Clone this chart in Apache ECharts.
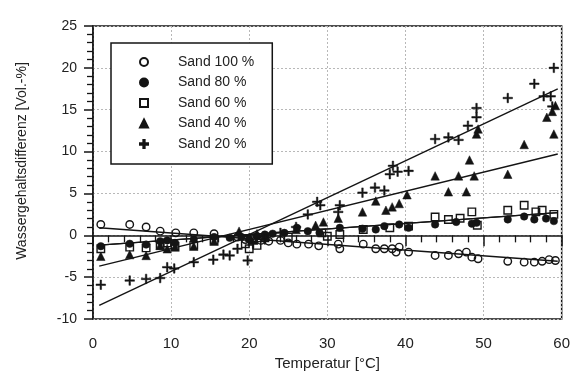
<!DOCTYPE html>
<html>
<head>
<meta charset="utf-8">
<script src="https://cdn.jsdelivr.net/npm/echarts@6/dist/echarts.min.js"></script>
<style>
html,body{margin:0;padding:0;background:#fff;}
#c{width:573px;height:376px;}
</style>
</head>
<body>
<div id="c"></div>
<script>
// ---- data ----
const seriesNames = ['Sand 100 %', 'Sand 80 %', 'Sand 60 %', 'Sand 40 %', 'Sand 20 %'];
const xTitle = 'Temperatur [°C]';
const yTitle = 'Wassergehaltsdifferenz [Vol.-%]';

const sand100 = [[1,1.3],[4.7,1.3],[6.8,1.0],[8.6,0.5],[10.6,0.3],[12.9,0.3],[15.5,0.2],[18.5,-0.2],[19.5,-0.5],[20.5,-0.3],[21.5,-0.6],[22.5,-0.7],[24,-0.6],[25,-0.9],[26.1,-1.05],[27.6,-1.05],[28.9,-1.25],[31.4,-1.05],[31.6,-1.6],[34.6,-1.05],[36.2,-1.6],[37.3,-1.6],[38.3,-1.6],[38.8,-2.0],[39.2,-1.4],[40.4,-2.0],[43.8,-2.4],[45.5,-2.4],[46.8,-2.2],[47.8,-2.0],[48.5,-2.6],[49.3,-2.8],[53.1,-3.1],[55.2,-3.2],[56.5,-3.2],[57.5,-3.1],[58.4,-2.9],[59.2,-3.0]];

const sand80 = [[1,-1.3],[4.7,-1.0],[6.8,-1.1],[8.6,-0.7],[9.5,-0.6],[10.5,-0.9],[12.9,-0.5],[15.5,-0.2],[17.5,-0.3],[19,-0.2],[20,-0.5],[21,-0.1],[22,0.1],[23,0.2],[24.5,0.3],[26.1,0.9],[27.5,0.5],[29,0.3],[31.6,0.9],[34.5,0.8],[36.2,0.7],[37.3,1.1],[39.2,1.3],[40.4,0.9],[43.8,1.3],[46.5,1.6],[48.5,1.4],[49.1,1.5],[53.1,1.9],[55.2,2.25],[56.5,1.9],[58,2.0],[59,1.7]];

const sand60 = [[1,-1.6],[4.7,-1.4],[6.8,-1.5],[8.6,-1.2],[9.5,-0.9],[10.5,-1.3],[12.9,-1.2],[15.5,-0.6],[19.5,-1.0],[20,-1.6],[20.5,-0.4],[21,-1.2],[22,-0.3],[25,-0.2],[29.3,0.3],[30,-0.1],[31.6,0.1],[34.6,0.7],[38,0.9],[40.4,1.1],[43.8,2.2],[45.5,1.9],[47,2.05],[48.5,2.8],[49.2,1.2],[53.1,3.0],[55.2,3.6],[56.7,2.8],[57.5,3.0],[59,2.5]];

const sand40 = [[1,-2.5],[4.7,-2.3],[6.8,-2.4],[8.6,-1.2],[9.5,-1.6],[10.5,-1.4],[12.9,-1.3],[15.5,-0.7],[18.7,0.5],[20,-0.2],[21,0.2],[22,-0.1],[26,0.7],[28.5,1.2],[29.5,1.6],[31.4,2.05],[34.5,2.8],[36.2,4.1],[37.5,3.0],[38.3,3.4],[39.2,3.8],[40.2,4.85],[43.8,7.1],[45.5,5.2],[46.8,7.1],[47.8,5.2],[48.2,9.0],[48.8,7.1],[49.1,12.1],[49.3,12.7],[53.1,7.3],[55.2,10.85],[58.1,14.1],[58.8,14.8],[59,12.1],[59.2,15.5]];

const sand20 = [[1,-5.9],[4.7,-5.4],[6.8,-5.2],[8.6,-5.1],[9.5,-3.8],[10.4,-3.95],[12.9,-3.2],[15.4,-2.9],[16.7,-2.3],[17.5,-2.4],[18.5,-1.6],[19.8,-3.0],[20.5,-1.0],[22,-0.5],[24,0.3],[26,1.0],[27.5,2.5],[28.7,4.0],[29.1,3.6],[31.4,2.8],[31.6,3.6],[34.5,5.1],[36.1,5.7],[37.3,5.35],[38.0,7.3],[38.4,8.3],[39.0,7.6],[40.4,7.7],[43.8,11.5],[45.5,11.7],[46.8,11.4],[48.0,13.1],[49.1,14.1],[49.1,15.2],[53.1,16.4],[56.5,18.1],[57.7,16.6],[58.6,16.6],[58.8,15.4],[59,20]];

// regression line end points
const fit100 = [[0.8,0.90],[59.5,-3.10]];
const fit80 = [[0.8,-1.17],[59.5,2.71]];
const fit60 = [[0.8,-1.17],[59.5,2.71]];
const fit40 = [[0.8,-3.68],[59.5,9.71]];
const fit20 = [[0.8,-8.35],[59.5,17.48]];

// ---- chart ----
const INK = '#141414';
const TXT = '#222';
const FONT = '"Liberation Sans", Arial, sans-serif';
const plusPath = 'path://M4.2,0H5.8V4.2H10V5.8H5.8V10H4.2V5.8H0V4.2H4.2Z';

const chart = echarts.init(document.getElementById('c'), null, {renderer: 'canvas'});

function scatter(name, data, symbol, size, filled) {
  return {
    name: name, type: 'scatter', data: data, symbol: symbol, symbolSize: size,
    itemStyle: filled ? {color: INK, borderColor: INK, borderWidth: 0.5, opacity: 1}
                      : {color: 'rgba(255,255,255,0)', borderColor: INK, borderWidth: 1.4, opacity: 1},
    z: 3
  };
}
function fit(name, data) {
  return {
    name: name, type: 'line', data: data, symbol: 'none', silent: true,
    lineStyle: {color: INK, width: 1.4}, z: 2
  };
}

chart.setOption({
  animation: false,
  backgroundColor: '#fff',
  grid: {left: 93, right: 5, top: 26, bottom: 49, show: true, borderColor: INK, borderWidth: 1.5, backgroundColor: 'transparent'},
  xAxis: {
    type: 'value', min: 0, max: 60, interval: 10,
    name: xTitle, nameLocation: 'middle', nameGap: 33,
    nameTextStyle: {fontFamily: FONT, fontSize: 15, color: TXT},
    axisLine: {show: true, lineStyle: {color: INK, width: 1.5}},
    axisTick: {show: true, inside: false, length: 11, lineStyle: {color: INK, width: 1.5}},
    minorTick: {show: true, splitNumber: 5, length: 7, lineStyle: {color: INK, width: 1.3}},
    axisLabel: {fontFamily: FONT, fontSize: 15, color: TXT, margin: 17, showMaxLabel: true, showMinLabel: true},
    splitLine: {show: true, lineStyle: {color: '#b8b8b8', width: 1, type: [2, 2]}}
  },
  yAxis: {
    type: 'value', min: -10, max: 25, interval: 5,
    axisLine: {show: true, lineStyle: {color: INK, width: 1.5}},
    axisTick: {show: true, inside: false, length: 9, lineStyle: {color: INK, width: 1.5}},
    minorTick: {show: true, splitNumber: 5, length: 6, lineStyle: {color: INK, width: 1.3}},
    axisLabel: {fontFamily: FONT, fontSize: 14, color: TXT, margin: 16, padding: [0, 0, 18, 0], showMaxLabel: true, showMinLabel: true},
    splitLine: {show: true, lineStyle: {color: '#b8b8b8', width: 1, type: [2, 2]}}
  },
  legend: {
    data: seriesNames,
    orient: 'vertical', left: 111, top: 43,
    padding: [12, 18, 13, 28],
    itemWidth: 8, itemHeight: 8, itemGap: 6.5,
    backgroundColor: '#fff', borderColor: INK, borderWidth: 1.5, borderRadius: 0,
    selectedMode: false,
    textStyle: {fontFamily: FONT, fontSize: 14, color: TXT, lineHeight: 14, padding: [0, 0, 0, 25]}
  },
  graphic: [{
    type: 'text', x: 22, y: 161, rotation: Math.PI / 2,
    style: {text: yTitle, fontFamily: FONT, fontSize: 14, fill: TXT, align: 'center', verticalAlign: 'middle'}
  }],
  series: [
    fit('fit100', fit100),
    fit('fit80', fit80),
    fit('fit60', fit60),
    fit('fit40', fit40),
    fit('fit20', fit20),
    scatter(seriesNames[0], sand100, 'circle', 7.5, false),
    scatter(seriesNames[1], sand80, 'circle', 7.5, true),
    scatter(seriesNames[2], sand60, 'rect', 7.5, false),
    scatter(seriesNames[3], sand40, 'triangle', 8.5, true),
    scatter(seriesNames[4], sand20, plusPath, 9.5, true)
  ]
});
</script>
</body>
</html>
